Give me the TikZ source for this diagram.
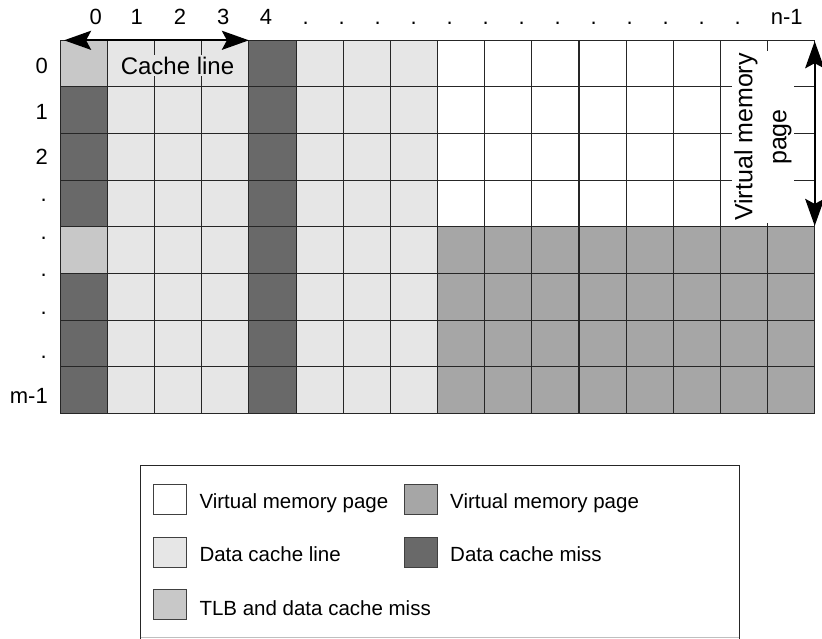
\documentclass[tikz,border=0pt]{standalone}
\usepackage{fontspec}
\setmainfont{Liberation Sans}
\usetikzlibrary{arrows.meta}
\definecolor{tlb}{HTML}{C8C8C8}
\definecolor{lite}{HTML}{E6E6E6}
\definecolor{dark}{HTML}{696969}
\definecolor{mid}{HTML}{A6A6A6}
\begin{document}
\begin{tikzpicture}[x=1pt,y=-1pt,
  gridline/.style={draw=black!85,line width=1.1pt},
  dimarrow/.style={line width=2.3pt,{Stealth[length=27pt,width=19pt,inset=5pt]}-{Stealth[length=27pt,width=19pt,inset=5pt]}},
  axlab/.style={font=\fontsize{22}{26}\selectfont,inner sep=0pt},
  leglab/.style={font=\fontsize{20.5}{24}\selectfont,inner sep=0pt,anchor=base west},
  swatch/.style={draw=black!75,line width=0.9pt,minimum width=33pt,minimum height=30pt,inner sep=0pt}]
\useasboundingbox (0,0) rectangle (822,638);
\fill[white] (0,0) rectangle (822,638);
% grid
\begin{scope}[shift={(60.3,40.3)},x=47.15pt,y=-46.63pt]
  \fill[dark] (0,0) rectangle (1,8);
  \fill[tlb] (0,0) rectangle (1,1);
  \fill[tlb] (0,4) rectangle (1,5);
  \fill[lite] (1,0) rectangle (4,8);
  \fill[dark] (4,0) rectangle (5,8);
  \fill[lite] (5,0) rectangle (8,8);
  \fill[mid] (8,4) rectangle (16,8);
  \foreach \i in {0,...,16} {\draw[gridline] (\i,0) -- (\i,8);}
  \foreach \j in {0,...,8} {\draw[gridline] (0,\j) -- (16,\j);}
  \coordinate (clA) at (0.08,0);
  \coordinate (clB) at (4,0);
  \coordinate (vpA) at (16,0.02);
  \coordinate (vpB) at (16,3.98);
\end{scope}
% labels inside grid
\node[fill=lite,inner sep=1.5pt,anchor=base,font=\fontsize{24}{28}\selectfont] (cl) at (177.5,74) {Cache line};
\node[fill=white,inner sep=2pt,rotate=90,align=center,font=\fontsize{25}{34}\selectfont] (vp) at (763,137) {Virtual memory\\page};
\draw[dimarrow] (clA) -- (clB);
\draw[dimarrow] (vpA) -- (vpB);
% column labels
\node[axlab,anchor=base] (c0) at (95.7,24) {0};
\node[axlab,anchor=base] (c1) at (136.7,24) {1};
\node[axlab,anchor=base] (c2) at (180,24) {2};
\node[axlab,anchor=base] (c3) at (223.3,24) {3};
\node[axlab,anchor=base] (c4) at (266,24) {4};
\foreach \k in {0,...,12} {\node[axlab,anchor=base] (cd\k) at ({305.7+36*\k},24) {.};}
\node[axlab,anchor=base] (cn) at (786.7,24) {n-1};
% row labels
\node[axlab,anchor=base east] (r0) at (48,73.3) {0};
\node[axlab,anchor=base east] (r1) at (48,119) {1};
\node[axlab,anchor=base east] (r2) at (48,164) {2};
\node[axlab,anchor=base east] (rd1) at (47,201.5) {.};
\node[axlab,anchor=base east] (rd2) at (47,239) {.};
\node[axlab,anchor=base east] (rd3) at (47,276.5) {.};
\node[axlab,anchor=base east] (rd4) at (47,314) {.};
\node[axlab,anchor=base east] (rd5) at (47,358) {.};
\node[axlab,anchor=base east] (rm) at (48,403.3) {m-1};
% legend
\draw[draw=black!85,line width=1pt] (140.7,638.5) -- (140.7,465) -- (739,465) -- (739,638.5);
\draw[draw=black!25,line width=0.6pt] (140.7,637.6) -- (739,637.6);
\node[swatch,fill=white] (s1) at (169.7,499) {};
\node[swatch,fill=mid] (s2) at (421,499) {};
\node[swatch,fill=lite] (s3) at (169.7,552) {};
\node[swatch,fill=dark] (s4) at (421,552) {};
\node[swatch,fill=tlb] (s5) at (169.7,604) {};
\node[leglab] (t1) at (199.3,508.3) {Virtual memory page};
\node[leglab] (t2) at (450,508.3) {Virtual memory page};
\node[leglab] (t3) at (199.3,561.7) {Data cache line};
\node[leglab] (t4) at (450,561.7) {Data cache miss};
\node[leglab] (t5) at (199.3,615) {TLB and data cache miss};
\end{tikzpicture}
\end{document}
